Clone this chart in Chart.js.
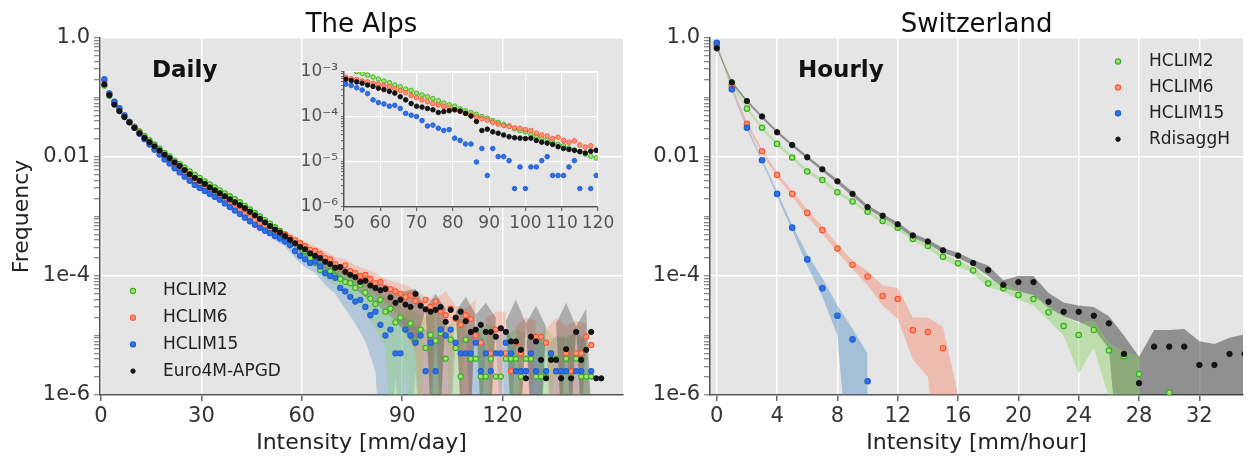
<!DOCTYPE html>
<html><head><meta charset="utf-8">
<script src="https://cdn.jsdelivr.net/npm/chart.js@4.4.1/dist/chart.umd.min.js"></script>
<style>
html,body{margin:0;padding:0;background:#fff;width:1247px;height:457px;overflow:hidden;position:relative;}
canvas{position:absolute;}
</style></head><body>
<canvas id="alps" width="630" height="457" style="left:0;top:0"></canvas>
<canvas id="inset" width="330" height="185" style="left:290px;top:55px"></canvas>
<canvas id="swiss" width="617" height="457" style="left:630px;top:0"></canvas>
<script>
// ---------------- DATA ----------------
const seriesNames = ['HCLIM2', 'HCLIM6', 'HCLIM15', 'Euro4M-APGD'];
const swissSeriesNames = ['HCLIM2', 'HCLIM6', 'HCLIM15', 'RdisaggH'];

// The Alps, daily: intensity bins [mm/day]
const alpsIntensity = [1,2.5,4,5.5,7,8.5,10,11.5,13,14.5,
16,17.5,19,20.5,22,23.5,25,26.5,28,29.5,
31,32.5,34,35.5,37,38.5,40,41.5,43,44.5,
46,47.5,49,50.5,52,53.5,55,56.5,58,59.5,
61,62.5,64,65.5,67,68.5,70,71.5,73,74.5,
76,77.5,79,80.5,82,83.5,85,86.5,88,89.5,
91,92.5,94,95.5,97,98.5,100,101.5,103,104.5,
106,107.5,109,110.5,112,113.5,115,116.5,118,119.5,
121,122.5,124,125.5,127,128.5,130,131.5,133,134.5,
136,137.5,139,140.5,142,143.5,145,146.5,148,149.5];
// frequencies, stored as log10(frequency)
const alpsHCLIM2Exp = [-0.80,-0.97,-1.11,-1.22,-1.32,-1.41,-1.49,-1.57,-1.65,-1.72,
-1.79,-1.86,-1.93,-1.99,-2.06,-2.12,-2.18,-2.24,-2.30,-2.35,
-2.41,-2.46,-2.51,-2.56,-2.61,-2.66,-2.71,-2.76,-2.82,-2.88,
-2.94,-3.00,-3.06,-3.12,-3.18,-3.24,-3.30,-3.36,-3.43,-3.50,
-3.58,-3.70,-3.78,-3.90,-3.95,-3.92,-4.00,-4.05,-4.10,-4.12,
-4.20,-4.15,-4.28,-4.38,-4.47,-4.40,-4.60,-4.55,-4.78,-4.70,
-4.90,-4.80,-5.09,-4.90,-5.21,-4.99,-5.09,-4.96,-5.39,-5.07,
-5.21,-5.69,-5.07,-5.39,-5.39,-5.69,-5.69,-5.39,-5.69,-5.69,
-5.39,-5.39,-5.39,-5.69,-5.39,-5.39,-5.69,-5.69,-5.69,-5.39,
-5.39,null,-5.39,-5.69,-5.39,-5.69,-5.69,-5.69,null,null];
const alpsHCLIM6Exp = [-0.72,-0.94,-1.08,-1.19,-1.30,-1.41,-1.50,-1.59,-1.68,-1.77,
-1.85,-1.93,-2.01,-2.08,-2.16,-2.23,-2.30,-2.37,-2.43,-2.48,
-2.53,-2.59,-2.64,-2.69,-2.74,-2.80,-2.86,-2.91,-2.96,-3.01,
-3.06,-3.11,-3.15,-3.20,-3.24,-3.27,-3.31,-3.36,-3.40,-3.45,
-3.50,-3.56,-3.58,-3.63,-3.70,-3.72,-3.80,-3.85,-3.82,-3.92,
-3.95,-4.00,-3.98,-4.05,-4.12,-4.10,-4.20,-4.22,-4.26,-4.30,
-4.35,-4.33,-4.42,-4.48,-4.40,-4.52,-4.43,-4.60,-4.66,-4.55,
-4.72,-4.82,-4.66,-4.72,-5.00,-5.12,-5.30,-5.30,-4.90,-4.88,
-5.30,-5.60,-5.12,-5.30,-5.60,-5.30,-5.02,-5.02,-5.12,-5.30,
-5.60,-5.60,-5.30,-5.60,-5.30,-5.30,-5.02,-5.16,null,null];
const alpsHCLIM15Exp = [-0.69,-0.93,-1.07,-1.18,-1.30,-1.41,-1.51,-1.61,-1.70,-1.79,
-1.88,-1.96,-2.04,-2.11,-2.19,-2.26,-2.33,-2.40,-2.47,-2.52,
-2.57,-2.62,-2.67,-2.72,-2.78,-2.84,-2.90,-2.96,-3.02,-3.08,
-3.14,-3.19,-3.24,-3.28,-3.33,-3.37,-3.42,-3.48,-3.58,-3.66,
-3.72,-3.78,-3.76,-3.84,-3.95,-4.00,-4.03,-4.20,-4.26,-4.35,
-4.43,-4.40,-4.52,-4.66,-4.60,-4.82,-5.00,-4.90,-5.30,-5.30,
-4.90,-5.00,-5.12,-5.00,-5.60,-5.12,-5.60,-4.90,-5.00,-4.90,
-5.12,-5.30,-5.30,-5.30,-5.12,-5.60,-5.30,-5.60,-5.30,-5.30,
-5.12,-5.30,-5.60,-5.60,-5.60,-5.30,-5.60,null,-5.60,-5.30,
-5.60,-5.60,-5.60,null,-5.60,-5.60,null,-5.60,null,null];
const alpsEuro4MExp = [-0.78,-0.96,-1.12,-1.23,-1.33,-1.42,-1.51,-1.60,-1.68,-1.75,
-1.82,-1.89,-1.96,-2.02,-2.09,-2.15,-2.22,-2.29,-2.35,-2.40,
-2.45,-2.51,-2.56,-2.61,-2.66,-2.71,-2.76,-2.81,-2.86,-2.92,
-2.98,-3.04,-3.10,-3.16,-3.22,-3.27,-3.33,-3.39,-3.45,-3.51,
-3.55,-3.62,-3.66,-3.70,-3.76,-3.80,-3.86,-3.85,-3.93,-3.98,
-4.02,-4.10,-4.08,-4.16,-4.20,-4.24,-4.22,-4.36,-4.45,-4.40,
-4.48,-4.52,-4.30,-4.50,-4.56,-4.60,-4.57,-4.52,-4.77,-4.57,
-4.70,-4.60,-4.76,-4.94,-4.90,-4.82,-4.94,-4.94,-5.02,-4.88,
-4.94,-5.10,-5.10,-5.24,-5.72,-5.02,-5.10,-5.41,-5.72,-5.41,
-5.41,-5.72,-5.23,-5.72,-4.94,-5.41,-5.24,-4.94,-5.72,-5.72];

// The Alps, spread bands (log10 of lower / upper bound; -8 = below the axis)
const alpsBandIntensity = [52,55,58,61,64,67,70,73,76,79,82,85,88,91,94,97,100,103,106,109,112,115,118,121,124,127,130,133,136,139,142,145,148];
const alpsHCLIM2HiExp = [-3.15,-3.26,-3.38,-3.50,-3.62,-3.75,-3.85,-3.95,-4.05,-4.15,-4.25,-4.35,-4.45,-4.55,-4.60,
-4.70,-4.60,-4.85,-4.75,-4.70,-4.95,-4.80,-4.85,-5.00,-4.90,-4.95,-5.05,-4.90,-5.05,-5.00,-4.95,-5.10,-8];
const alpsHCLIM2LoExp = [-3.22,-3.34,-3.48,-3.66,-3.85,-4.05,-4.15,-4.30,-4.45,-4.60,-4.90,-5.20,-8,-5.50,-8,
-4.70,-8,-4.85,-8,-4.70,-4.95,-8,-4.85,-5.00,-8,-4.95,-5.05,-8,-5.05,-8,-4.95,-8,-8];
const alpsHCLIM6HiExp = [-3.17,-3.25,-3.33,-3.42,-3.50,-3.58,-3.68,-3.72,-3.82,-3.88,-3.95,-4.05,-4.10,-4.15,-4.25,
-4.35,-4.40,-4.25,-4.50,-4.55,-4.40,-4.70,-4.60,-4.60,-4.85,-4.70,-4.75,-4.90,-4.70,-4.85,-4.75,-4.80,-8];
const alpsHCLIM6LoExp = [-3.30,-3.38,-3.48,-3.58,-3.68,-3.80,-3.92,-4.00,-4.10,-4.18,-4.30,-4.45,-4.60,-4.90,-5.30,
-8,-4.40,-8,-4.50,-8,-4.40,-4.70,-8,-4.60,-4.85,-8,-4.75,-4.90,-8,-4.85,-8,-4.80,-8];
const alpsHCLIM15HiExp = [-3.28,-3.36,-3.50,-3.62,-3.66,-3.82,-3.92,-4.05,-4.20,-4.30,-4.45,-4.60,-4.75,-4.70,-4.85,
-4.90,-5.05,-4.80,-5.10,-5.00,-4.85,-5.15,-5.05,-4.90,-5.15,-5.10,-4.95,-5.20,-5.00,-5.05,-4.95,-5.10,-8];
const alpsHCLIM15LoExp = [-3.40,-3.50,-3.70,-3.85,-3.95,-4.15,-4.30,-4.55,-4.80,-5.10,-5.60,-8,-5.70,-8,-5.60,
-8,-5.05,-8,-5.10,-5.00,-8,-5.15,-5.05,-8,-5.15,-5.10,-8,-5.20,-8,-5.05,-8,-5.10,-8];
const alpsEuro4MHiExp = [-3.18,-3.28,-3.38,-3.48,-3.58,-3.68,-3.78,-3.86,-3.95,-4.00,-4.10,-4.15,-4.30,-4.25,-4.22,
-4.55,-4.30,-4.55,-4.60,-4.35,-4.65,-4.45,-4.70,-4.75,-4.40,-4.80,-4.50,-4.85,-4.80,-4.45,-4.85,-4.55,-8];
const alpsEuro4MLoExp = [-3.28,-3.40,-3.52,-3.68,-3.80,-3.92,-4.00,-4.10,-4.22,-4.35,-4.45,-4.60,-4.75,-4.95,-5.20,
-4.55,-8,-4.55,-4.60,-8,-4.65,-8,-4.70,-4.75,-8,-4.80,-8,-4.85,-4.80,-8,-4.85,-8,-8];

// Inset (50-120 mm/day), log10(frequency)
const insetIntensity = [49,50.5,52,53.5,55,56.5,58,59.5,61,62.5,
64,65.5,67,68.5,70,71.5,73,74.5,76,77.5,
79,80.5,82,83.5,85,86.5,88,89.5,91,92.5,
94,95.5,97,98.5,100,101.5,103,104.5,106,107.5,
109,110.5,112,113.5,115,116.5,118,119.5,121];
const insetHCLIM2Exp = [-2.85,-2.90,-2.94,-2.99,-3.03,-3.07,-3.11,-3.16,-3.20,-3.24,
-3.29,-3.33,-3.38,-3.41,-3.47,-3.51,-3.55,-3.59,-3.64,-3.69,
-3.73,-3.76,-3.82,-3.86,-3.90,-3.94,-3.99,-4.03,-4.08,-4.12,
-4.17,-4.20,-4.26,-4.30,-4.33,-4.39,-4.43,-4.47,-4.51,-4.56,
-4.61,-4.64,-4.69,-4.74,-4.77,-4.82,-4.87,-4.91,-4.95];
const insetHCLIM6Exp = [-3.09,-3.12,-3.15,-3.17,-3.20,-3.22,-3.25,-3.27,-3.30,-3.33,
-3.37,-3.41,-3.46,-3.52,-3.57,-3.62,-3.66,-3.70,-3.73,-3.77,
-3.80,-3.84,-3.87,-3.92,-3.96,-4.00,-4.04,-4.07,-4.12,-4.16,
-4.19,-4.21,-4.24,-4.25,-4.28,-4.30,-4.36,-4.40,-4.42,-4.48,
-4.45,-4.52,-4.56,-4.53,-4.62,-4.67,-4.64,-4.74,-4.72];
const insetHCLIM15Exp = [-3.22,-3.27,-3.30,-3.35,-3.40,-3.48,-3.62,-3.68,-3.71,-3.76,
-3.74,-3.81,-3.92,-3.96,-3.99,-4.08,-4.20,-4.18,-4.25,-4.30,
-4.28,-4.47,-4.52,-4.60,-4.60,-5.00,-4.70,-5.30,-4.70,-4.88,
-4.88,-4.97,-5.59,-5.11,-5.59,-5.11,-5.11,-4.97,-4.88,-5.30,
-5.30,-5.30,-5.11,-4.97,-5.59,null,-5.59,-5.30,-5.30];
const insetEuro4MExp = [-3.12,-3.16,-3.19,-3.22,-3.25,-3.29,-3.32,-3.36,-3.39,-3.43,
-3.47,-3.55,-3.62,-3.70,-3.76,-3.78,-3.81,-3.84,-3.90,-3.88,
-3.86,-3.84,-3.87,-3.92,-3.98,-4.10,-4.30,-4.27,-4.33,-4.36,
-4.40,-4.44,-4.46,-4.47,-4.48,-4.47,-4.52,-4.56,-4.58,-4.61,
-4.66,-4.70,-4.72,-4.74,-4.77,-4.80,-4.76,-4.74,-4.77];

// Switzerland, hourly: intensity [mm/hour] and frequencies
const swissIntensity = [0,1,2,3,4,5,6,7,8,9,10,11,12,13,14,15,16,17,18,19,20,21,22,23,24,25,26,27,28,29,30,31,32,33,34,35];
const swissHCLIM2 = [0.73,0.162,0.065,0.031,0.0166,0.0098,0.0057,0.0041,0.00255,0.00178,
0.0012,8.4e-4,6.5e-4,4.2e-4,3.2e-4,2.1e-4,1.63e-4,1.24e-4,7.5e-5,6.2e-5,
4.8e-5,4.1e-5,2.45e-5,1.44e-5,1.02e-5,1.24e-5,5.6e-6,4.5e-6,2.25e-6,null,1.1e-6];
const swissHCLIM6 = [0.78,0.15,0.036,0.0125,0.005,0.0024,1.15e-3,5.9e-4,2.9e-4,1.55e-4,9.8e-5,4.6e-5,4.1e-5,1.23e-5,1.14e-5,6.1e-6];
const swissHCLIM15 = [0.83,0.137,0.031,0.0088,0.0024,6.5e-4,1.9e-4,6.2e-5,2.15e-5,8.6e-6,1.7e-6];
const swissRdisaggH = [0.67,0.18,0.087,0.048,0.026,0.0159,0.0099,0.0062,0.0039,0.0024,
0.00144,0.00103,7.4e-4,4.8e-4,3.8e-4,2.7e-4,2.2e-4,1.65e-4,1.26e-4,7.1e-5,
7.9e-5,7.9e-5,3.7e-5,2.5e-5,2.5e-5,2.15e-5,1.6e-5,4.9e-6,1.58e-6,6.5e-6,
6.5e-6,6.5e-6,3.2e-6,3.2e-6,4.9e-6,4.9e-6];
// Switzerland spread bands (1e-8 = below the axis)
const swissHCLIM2Lo = [0.70,0.155,0.061,0.029,0.0155,0.0092,0.0053,0.0038,0.0024,0.00165,0.00112,7.8e-4,6.0e-4,3.9e-4,2.9e-4,1.9e-4,1.45e-4,1.1e-4,6.5e-5,5.5e-5,4.0e-5,3.2e-5,1.8e-5,1.0e-5,2.3e-6,6.2e-6,9e-7,1e-8,1e-8];
const swissHCLIM2Hi = [0.76,0.17,0.069,0.033,0.0178,0.0105,0.0061,0.0044,0.0027,0.0019,0.00128,9.0e-4,7.0e-4,4.5e-4,3.5e-4,2.35e-4,1.8e-4,1.4e-4,9.0e-5,7.5e-5,5.8e-5,4.8e-5,3.2e-5,2.1e-5,1.6e-5,1.8e-5,7.7e-6,5.4e-6,4.6e-6];
const swissHCLIM6Lo = [0.75,0.14,0.033,0.0115,0.0046,0.0022,1.0e-3,5.2e-4,2.5e-4,1.3e-4,7.0e-5,3.2e-5,1.9e-5,3.9e-6,2.0e-6,1e-8,1e-8];
const swissHCLIM6Hi = [0.81,0.16,0.039,0.0135,0.0055,0.0027,1.3e-3,6.8e-4,3.4e-4,1.8e-4,1.2e-4,7.0e-5,6.3e-5,2.0e-5,2.0e-5,1.4e-5,1e-6];
const swissHCLIM15Lo = [0.80,0.13,0.029,0.0083,0.0022,5.8e-4,1.5e-4,4.5e-5,1.0e-5,1e-8,1e-8];
const swissHCLIM15Hi = [0.86,0.145,0.033,0.0093,0.0026,7.2e-4,2.3e-4,9.3e-5,3.2e-5,1.3e-5,5e-6];
const swissRdisaggHLo = [0.64,0.17,0.082,0.045,0.0248,0.015,0.0093,0.0058,0.0036,0.0022,0.00134,9.5e-4,6.8e-4,4.4e-4,3.5e-4,2.45e-4,2.0e-4,1.5e-4,1.0e-4,6.2e-5,5.5e-5,4.8e-5,2.9e-5,2.1e-5,1.7e-5,1.3e-5,6e-6,1e-8,1e-8,1e-8,1e-8,1e-8,1e-8,1e-8,1e-8,1e-8];
const swissRdisaggHHi = [0.70,0.19,0.092,0.05,0.0278,0.0168,0.0105,0.0066,0.0042,0.0026,0.00155,1.1e-3,8.0e-4,5.2e-4,4.1e-4,2.95e-4,2.45e-4,1.85e-4,1.5e-4,8.5e-5,1.0e-4,1.0e-4,5.2e-5,3.6e-5,3.2e-5,3.0e-5,2.1e-5,1.0e-5,4.4e-6,1.24e-5,1.24e-5,1.28e-5,8.0e-6,7.2e-6,9.2e-6,1.04e-5];

// Tick labels
const alpsXTicks = [0, 30, 60, 90, 120];
const swissXTicks = [0, 4, 8, 12, 16, 20, 24, 28, 32];
const insetXTicks = [50, 60, 70, 80, 90, 100, 110, 120];
const mainYTicks = [1, 1e-2, 1e-4, 1e-6];
const mainYTickText = ['1.0', '0.01', '1e-4', '1e-6'];
const insetYTicks = [1e-3, 1e-4, 1e-5, 1e-6];
const insetYTickText = ['10\u207B\u00B3', '10\u207B\u2074', '10\u207B\u2075', '10\u207B\u2076'];

// ---------------- HELPERS ----------------
const FONT = "'DejaVu Sans', 'Liberation Sans', sans-serif";
Chart.defaults.font.family = FONT;

function toPts(xs, ys, isExp) {
  const out = [];
  ys.forEach((v, i) => {
    if (v === null || v === undefined) return;
    out.push({ x: xs[i], y: isExp ? Math.pow(10, v) : v });
  });
  return out;
}
function logTicks(minE, maxE, majors, texts) {
  const out = [];
  for (let e = minE; e <= maxE; e++) {
    for (let m = 1; m <= 9; m++) {
      if (e === maxE && m > 1) break;
      const v = m * Math.pow(10, e);
      const k = majors.findIndex(t => Math.abs(Math.log10(t) - Math.log10(v)) < 1e-9);
      out.push({ value: v, lab: k >= 0 ? texts[k] : '' });
    }
  }
  return out;
}
const STY = {
  g: { bg: '#a8e35f', bc: '#2fae2f' },
  r: { bg: '#ff9878', bc: '#ff5330' },
  b: { bg: '#3070e4', bc: '#1e5fd2' },
  k: { bg: '#141414', bc: '#141414' }
};
function pointSet(label, xs, ys, sty, r, bw, order, isExp) {
  return { type: 'line', label, data: toPts(xs, ys, isExp), showLine: false, borderWidth: 0,
    pointRadius: r, pointHoverRadius: r, pointBorderWidth: bw,
    pointBackgroundColor: sty.bg, pointBorderColor: sty.bc, order };
}
function bandSets(xs, lo, hi, color, order, isExp) {
  return [
    { type: 'line', label: '_hi', data: toPts(xs, hi, isExp), showLine: true, borderWidth: 0, pointRadius: 0,
      fill: '+1', backgroundColor: color, order, tension: 0 },
    { type: 'line', label: '_lo', data: toPts(xs, lo, isExp), showLine: true, borderWidth: 0, pointRadius: 0,
      fill: false, order, tension: 0 }
  ];
}
const bgPlugin = {
  id: 'plotbg',
  beforeDraw(chart, args, opts) {
    const { ctx, chartArea: a } = chart;
    ctx.save(); ctx.fillStyle = opts.color || '#e5e5e5';
    ctx.fillRect(a.left, a.top, a.right - a.left, a.bottom - a.top);
    if (opts.frame) {
      ctx.strokeStyle = '#ffffff'; ctx.lineWidth = 1.2;
      ctx.beginPath(); ctx.moveTo(a.left, a.top + 0.5); ctx.lineTo(a.right - 0.5, a.top + 0.5); ctx.lineTo(a.right - 0.5, a.bottom); ctx.stroke();
    }
    ctx.restore();
  }
};
const textPlugin = {
  id: 'texts',
  afterDraw(chart, args, opts) {
    const ctx = chart.ctx; const a = chart.chartArea;
    (opts.items || []).forEach(it => {
      ctx.save(); ctx.font = it.font; ctx.fillStyle = it.color || '#111';
      ctx.textAlign = it.align || 'left'; ctx.textBaseline = 'alphabetic';
      const x = it.x === 'center' ? (a.left + a.right) / 2 : it.x;
      ctx.fillText(it.text, x, it.y); ctx.restore();
    });
  }
};
const legendPlugin = {
  id: 'ptlegend',
  afterDraw(chart, args, opts) {
    if (!opts.items) return;
    const ctx = chart.ctx;
    opts.items.forEach((it, i) => {
      const ds = chart.data.datasets[it.dataset];
      const y = opts.y0 + i * opts.dy;
      ctx.save();
      ctx.beginPath(); ctx.arc(opts.markerX, y, it.r, 0, Math.PI * 2);
      ctx.fillStyle = ds.pointBackgroundColor; ctx.fill();
      ctx.lineWidth = ds.pointBorderWidth; ctx.strokeStyle = ds.pointBorderColor; ctx.stroke();
      ctx.font = opts.font; ctx.fillStyle = '#222'; ctx.textAlign = 'left'; ctx.textBaseline = 'middle';
      ctx.fillText(ds.label, opts.textX, y);
      ctx.restore();
    });
  }
};
function yLogScale(minE, maxE, majors, texts, width, fontSize, tickColor, titleOpts, gridW) {
  return {
    type: 'logarithmic', min: Math.pow(10, minE), max: Math.pow(10, maxE),
    afterBuildTicks: s => { s.ticks = logTicks(minE, maxE, majors, texts); },
    afterFit: s => { s.width = width; },
    ticks: { autoSkip: false, padding: fontSize > 18 ? 4 : 3, color: tickColor, font: { size: fontSize },
      callback: (v, i, t) => (t[i] && t[i].lab) || '' },
    grid: { color: c => (c.tick && c.tick.lab) ? '#ffffff' : 'rgba(0,0,0,0)', lineWidth: gridW,
      tickColor: '#666', tickLength: fontSize > 18 ? 6 : 3, tickWidth: 1 },
    border: { display: true, color: '#555', width: 1.5 },
    title: titleOpts || { display: false }
  };
}
function xLinScale(min, max, ticks, height, fontSize, tickColor, title, gridW) {
  return {
    type: 'linear', min, max,
    afterBuildTicks: s => { s.ticks = ticks.map(v => ({ value: v })); },
    afterFit: s => { s.height = height; },
    ticks: { autoSkip: false, maxRotation: 0, padding: fontSize > 18 ? 3 : 2, color: tickColor, font: { size: fontSize } },
    grid: { color: '#ffffff', lineWidth: gridW, tickColor: '#666', tickLength: fontSize > 18 ? 6 : 4 },
    border: { display: true, color: '#555', width: 1.5 },
    title: title || { display: false }
  };
}
const common = { responsive: false, animation: false, devicePixelRatio: 1, events: [] };

// ---------------- LEFT: THE ALPS ----------------
const alpsDatasets = [
  pointSet(seriesNames[3], alpsIntensity, alpsEuro4MExp, STY.k, 2.6, 1, 1, true),
  pointSet(seriesNames[2], alpsIntensity, alpsHCLIM15Exp, STY.b, 2.6, 1.1, 2, true),
  pointSet(seriesNames[1], alpsIntensity, alpsHCLIM6Exp, STY.r, 2.6, 1.1, 3, true),
  pointSet(seriesNames[0], alpsIntensity, alpsHCLIM2Exp, STY.g, 2.6, 1.1, 4, true),
  ...bandSets(alpsBandIntensity, alpsHCLIM15LoExp, alpsHCLIM15HiExp, 'rgba(60,130,190,0.30)', 13, true),
  ...bandSets(alpsBandIntensity, alpsHCLIM2LoExp, alpsHCLIM2HiExp, 'rgba(130,210,90,0.30)', 12, true),
  ...bandSets(alpsBandIntensity, alpsHCLIM6LoExp, alpsHCLIM6HiExp, 'rgba(255,120,80,0.28)', 11, true),
  ...bandSets(alpsBandIntensity, alpsEuro4MLoExp, alpsEuro4MHiExp, 'rgba(40,40,40,0.30)', 10, true)
];
new Chart(document.getElementById('alps'), {
  type: 'line',
  data: { datasets: alpsDatasets },
  plugins: [bgPlugin, textPlugin, legendPlugin],
  options: Object.assign({}, common, {
    layout: { padding: { top: 38, right: 7, left: 0, bottom: 0 } },
    scales: {
      x: xLinScale(-0.3, 156, alpsXTicks, 62, 21, '#333',
        { display: true, text: 'Intensity [mm/day]', color: '#222', font: { size: 22 }, padding: { top: 0, bottom: 1 } }, 1.5),
      y: yLogScale(-6, 0, mainYTicks, mainYTickText, 100, 21, '#333',
        { display: true, text: 'Frequency', color: '#222', font: { size: 22 }, padding: { top: 9, bottom: 0 } }, 1.5)
    },
    plugins: {
      legend: { display: false }, tooltip: { enabled: false },
      plotbg: { color: '#e5e5e5' },
      texts: { items: [
        { text: 'The Alps', x: 'center', y: 32, font: "26px " + FONT, color: '#111', align: 'center' },
        { text: 'Daily', x: 152, y: 77, font: "bold 23px " + FONT, color: '#111' }
      ] },
      ptlegend: { markerX: 133, textX: 163, y0: 291, dy: 26.7, font: "17px " + FONT,
        items: [{ dataset: 3, r: 2.6 }, { dataset: 2, r: 2.6 }, { dataset: 1, r: 2.6 }, { dataset: 0, r: 2.2 }] }
    }
  })
});

// ---------------- INSET ----------------
new Chart(document.getElementById('inset'), {
  type: 'line',
  data: { datasets: [
    pointSet(seriesNames[3], insetIntensity, insetEuro4MExp, STY.k, 2.3, 0.9, 1, true),
    pointSet(seriesNames[2], insetIntensity, insetHCLIM15Exp, STY.b, 2.3, 0.9, 2, true),
    pointSet(seriesNames[1], insetIntensity, insetHCLIM6Exp, STY.r, 2.3, 0.9, 3, true),
    pointSet(seriesNames[0], insetIntensity, insetHCLIM2Exp, STY.g, 2.3, 0.9, 4, true)
  ] },
  plugins: [bgPlugin],
  options: Object.assign({}, common, {
    layout: { padding: { top: 17, right: 22, left: 0, bottom: 0 } },
    scales: {
      x: xLinScale(50, 120, insetXTicks, 33, 17, '#555', null, 1.2),
      y: yLogScale(-6, -3, insetYTicks, insetYTickText, 54, 17, '#555', null, 1.2)
    },
    plugins: { legend: { display: false }, tooltip: { enabled: false }, plotbg: { color: '#e5e5e5', frame: true } }
  })
});

// ---------------- RIGHT: SWITZERLAND ----------------
const swissDatasets = [
  pointSet(swissSeriesNames[3], swissIntensity, swissRdisaggH, STY.k, 2.7, 1, 1, false),
  pointSet(swissSeriesNames[2], swissIntensity, swissHCLIM15, STY.b, 2.7, 1.2, 2, false),
  pointSet(swissSeriesNames[1], swissIntensity, swissHCLIM6, STY.r, 2.7, 1.2, 3, false),
  pointSet(swissSeriesNames[0], swissIntensity, swissHCLIM2, STY.g, 2.7, 1.2, 4, false),
  ...bandSets(swissIntensity, swissHCLIM15Lo, swissHCLIM15Hi, 'rgba(60,130,190,0.38)', 13, false),
  ...bandSets(swissIntensity, swissHCLIM6Lo, swissHCLIM6Hi, 'rgba(255,110,80,0.35)', 12, false),
  ...bandSets(swissIntensity, swissHCLIM2Lo, swissHCLIM2Hi, 'rgba(130,210,90,0.40)', 10, false),
  ...bandSets(swissIntensity, swissRdisaggHLo, swissRdisaggHHi, 'rgba(40,40,40,0.45)', 11, false)
];
new Chart(document.getElementById('swiss'), {
  type: 'line',
  data: { datasets: swissDatasets },
  plugins: [bgPlugin, textPlugin, legendPlugin],
  options: Object.assign({}, common, {
    layout: { padding: { top: 38, right: 2, left: 0, bottom: 0 } },
    scales: {
      x: xLinScale(-0.45, 34.9, swissXTicks, 62, 21, '#333',
        { display: true, text: 'Intensity [mm/hour]', color: '#222', font: { size: 22 }, padding: { top: 0, bottom: 1 } }, 1.5),
      y: yLogScale(-6, 0, mainYTicks, mainYTickText, 80, 21, '#333', null, 1.5)
    },
    plugins: {
      legend: { display: false }, tooltip: { enabled: false },
      plotbg: { color: '#e5e5e5' },
      texts: { items: [
        { text: 'Switzerland', x: 'center', y: 32, font: "26px " + FONT, color: '#111', align: 'center' },
        { text: 'Hourly', x: 168, y: 77, font: "bold 23px " + FONT, color: '#111' }
      ] },
      ptlegend: { markerX: 488, textX: 519, y0: 61.5, dy: 25.9, font: "17px " + FONT,
        items: [{ dataset: 3, r: 2.6 }, { dataset: 2, r: 2.6 }, { dataset: 1, r: 2.6 }, { dataset: 0, r: 2.2 }] }
    }
  })
});
</script>
</body></html>
